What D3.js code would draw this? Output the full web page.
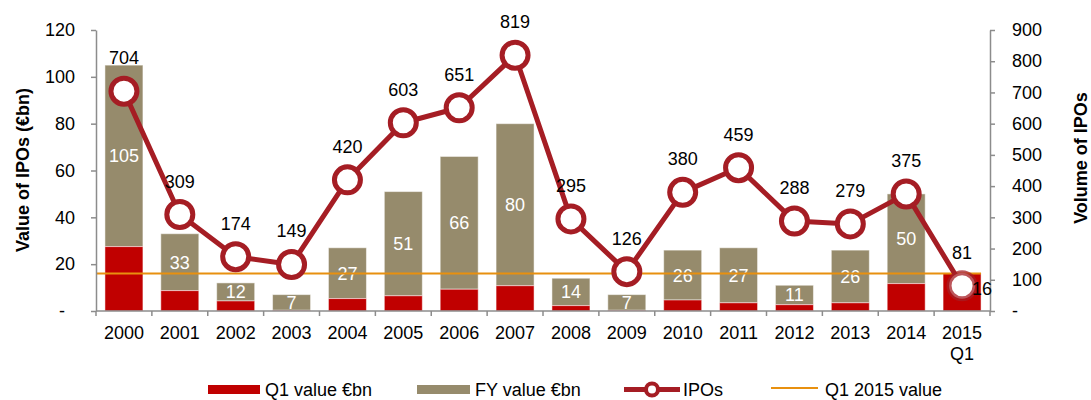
<!DOCTYPE html>
<html>
<head>
<meta charset="utf-8">
<script src="https://cdn.jsdelivr.net/npm/d3@7"></script>
<style>
  body { margin: 0; background: #fff; }
  svg { display: block; font-family: "Liberation Sans", Arial, sans-serif; }
</style>
</head>
<body>
<svg id="chart" width="1091" height="400"></svg>
<script>
// ---- data ----
const years = ["2000","2001","2002","2003","2004","2005","2006","2007","2008","2009","2010","2011","2012","2013","2014","2015 Q1"];
const fyValues = [105, 33, 12, 7, 27, 51, 66, 80, 14, 7, 26, 27, 11, 26, 50, null];
const q1Values = [27.5, 8.7, 4.3, 0.3, 5.3, 6.5, 9.3, 10.8, 2.3, 0.3, 4.7, 3.5, 2.7, 3.5, 11.7, 16];
const ipoCounts = [704, 309, 174, 149, 420, 603, 651, 819, 295, 126, 380, 459, 288, 279, 375, 81];
const q1Value2015 = 16;
const leftTicks = [0, 20, 40, 60, 80, 100, 120];
const rightTicks = [0, 100, 200, 300, 400, 500, 600, 700, 800, 900];

const RED = "#C00000", TAN = "#968B6C", LINE = "#A51D24", ORANGE = "#E8900F", AXIS = "#8C8C8C";

const svg = d3.select("#chart");
const x = d3.scaleBand().domain(years).range([96, 990]).paddingInner(0.32).paddingOuter(0.16);
const yL = d3.scaleLinear().domain([0, 120]).range([311, 30]);
const yR = d3.scaleLinear().domain([0, 900]).range([311, 30]);
const cx = d => x(d) + x.bandwidth() / 2;

// bars
const g = svg.append("g");
years.forEach((yr, i) => {
  const fy = fyValues[i], q1 = q1Values[i];
  if (fy != null) {
    g.append("rect").attr("x", x(yr)).attr("width", x.bandwidth())
      .attr("y", yL(fy)).attr("height", yL(q1) - yL(fy))
      .attr("fill", TAN).attr("stroke", "#fff").attr("stroke-opacity", 0.5).attr("stroke-width", 1);
  }
  g.append("rect").attr("x", x(yr)).attr("width", x.bandwidth())
    .attr("y", yL(q1)).attr("height", yL(0) - yL(q1))
    .attr("fill", RED).attr("stroke", "#fff").attr("stroke-opacity", 0.5).attr("stroke-width", 1);
  if (fy != null) {
    g.append("text").attr("x", cx(yr)).attr("y", (yL(fy) + yL(q1)) / 2).attr("dy", "0.36em")
      .attr("text-anchor", "middle").attr("fill", "#fff").attr("font-size", 18).text(fy);
  }
});

// orange Q1 2015 line
const last = years[years.length - 1];
svg.append("line").attr("x1", 96).attr("x2", x(last) + x.bandwidth())
  .attr("y1", yL(q1Value2015)).attr("y2", yL(q1Value2015))
  .attr("stroke", ORANGE).attr("stroke-width", 2);

// axes
const axL = svg.append("g").attr("transform", "translate(96,0)")
  .call(d3.axisLeft(yL).tickValues(leftTicks).tickSize(5).tickSizeOuter(0).tickPadding(16)
    .tickFormat(d => d === 0 ? "-" : d));
axL.selectAll("text").filter(d => d === 0).attr("dx", -10);
const axR = svg.append("g").attr("transform", "translate(990,0)")
  .call(d3.axisRight(yR).tickValues(rightTicks).tickSize(5).tickSizeOuter(0).tickPadding(17)
    .tickFormat(d => d === 0 ? "-" : d));
[axL, axR].forEach(a => {
  a.select(".domain").attr("stroke", AXIS).attr("stroke-width", 1.5);
  a.selectAll(".tick line").attr("stroke", AXIS).attr("stroke-width", 1.5);
  a.selectAll("text").attr("font-size", 18).attr("fill", "#000").attr("font-family", "Liberation Sans, Arial, sans-serif");
});

// x axis
const axB = svg.append("g");
axB.append("line").attr("x1", 96).attr("x2", 990).attr("y1", 311).attr("y2", 311)
  .attr("stroke", AXIS).attr("stroke-width", 1.5);
const step = x.step();
d3.range(years.length + 1).forEach(i => {
  const xx = 96 + i * step;
  axB.append("line").attr("x1", xx).attr("x2", xx).attr("y1", 311).attr("y2", 316)
    .attr("stroke", AXIS).attr("stroke-width", 1.5);
});
years.forEach(yr => {
  const t = axB.append("text").attr("x", cx(yr)).attr("y", 339).attr("text-anchor", "middle")
    .attr("font-size", 18).attr("fill", "#000");
  yr.split(" ").forEach((part, j) => {
    t.append("tspan").attr("x", cx(yr)).attr("dy", j === 0 ? 0 : 21).text(part);
  });
});

// IPO line
const line = d3.line().x((d, i) => cx(years[i])).y(d => yR(d));
svg.append("path").datum(ipoCounts).attr("d", line)
  .attr("fill", "none").attr("stroke", LINE).attr("stroke-width", 5).attr("stroke-linejoin", "round");
svg.selectAll("circle.pt").data(ipoCounts).enter().append("circle")
  .attr("cx", (d, i) => cx(years[i])).attr("cy", d => yR(d)).attr("r", 13)
  .attr("fill", "#fff").attr("stroke", LINE).attr("stroke-width", 5)
  .attr("stroke-opacity", (d, i) => i === years.length - 1 ? 0.75 : 1);
svg.selectAll("text.ipo").data(ipoCounts).enter().append("text")
  .attr("x", (d, i) => cx(years[i])).attr("y", d => yR(d) - 27)
  .attr("text-anchor", "middle").attr("font-size", 18).attr("fill", "#000").text(d => d);

// 2015 Q1 value label
svg.append("text").attr("x", cx(last) + 10).attr("y", yL(q1Value2015) + 21)
  .attr("font-size", 18).attr("fill", "#000").text(q1Value2015);

// axis titles
svg.append("text").attr("transform", "translate(29,170) rotate(-90)").attr("text-anchor", "middle")
  .attr("font-size", 18).attr("font-weight", "bold").text("Value of IPOs (€bn)");
svg.append("text").attr("transform", "translate(1087,158) rotate(-90)").attr("text-anchor", "middle")
  .attr("font-size", 18).attr("font-weight", "bold").text("Volume of IPOs");

// legend
const lg = svg.append("g");
lg.append("rect").attr("x", 208).attr("y", 385).attr("width", 52).attr("height", 9).attr("fill", RED);
lg.append("text").attr("x", 265).attr("y", 396).attr("font-size", 18).text("Q1 value €bn");
lg.append("rect").attr("x", 417).attr("y", 385).attr("width", 53).attr("height", 9).attr("fill", TAN);
lg.append("text").attr("x", 475).attr("y", 396).attr("font-size", 18).text("FY value €bn");
lg.append("line").attr("x1", 624).attr("x2", 680).attr("y1", 389.5).attr("y2", 389.5)
  .attr("stroke", LINE).attr("stroke-width", 5);
lg.append("circle").attr("cx", 652).attr("cy", 389.5).attr("r", 6)
  .attr("fill", "#fff").attr("stroke", LINE).attr("stroke-width", 4);
lg.append("text").attr("x", 683).attr("y", 396).attr("font-size", 18).text("IPOs");
lg.append("line").attr("x1", 771).attr("x2", 818).attr("y1", 388).attr("y2", 388)
  .attr("stroke", ORANGE).attr("stroke-width", 2);
lg.append("text").attr("x", 825).attr("y", 396).attr("font-size", 18).text("Q1 2015 value");
</script>
</body>
</html>
